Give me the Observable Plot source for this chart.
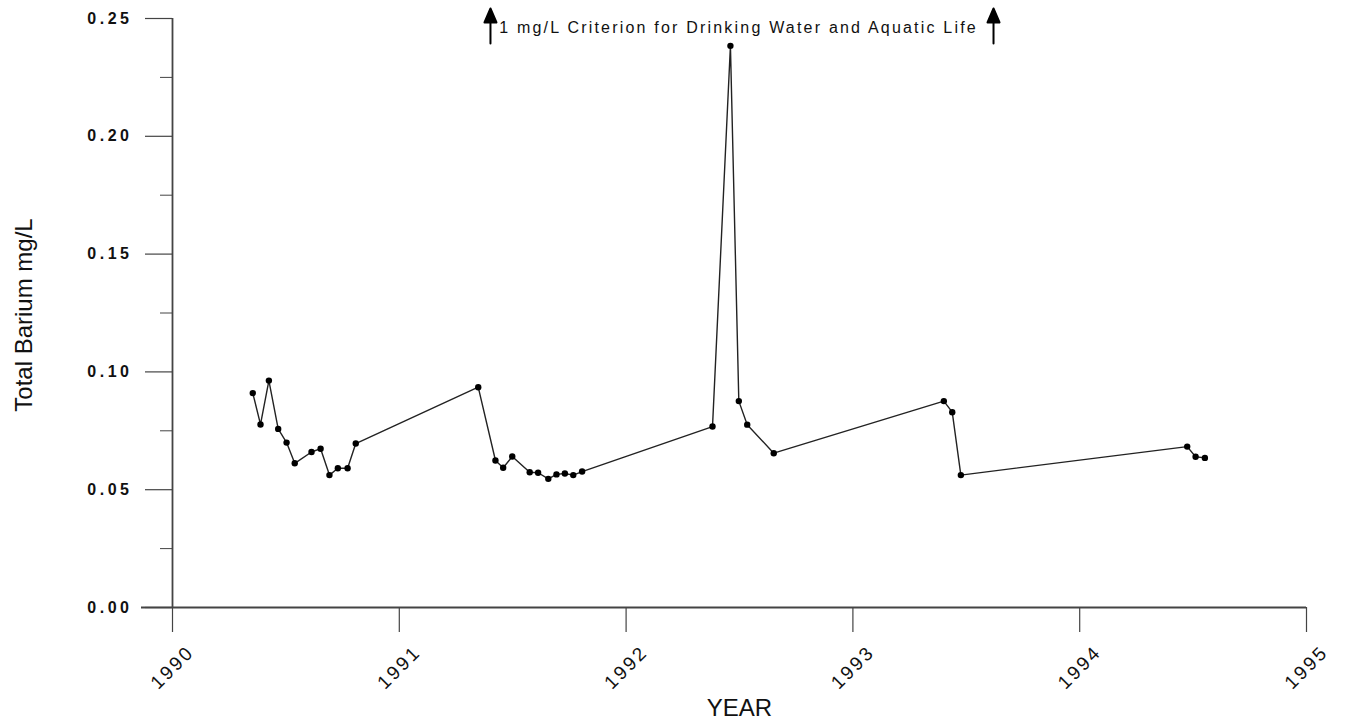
<!DOCTYPE html>
<html>
<head>
<meta charset="utf-8">
<script src="https://cdn.jsdelivr.net/npm/d3@7"></script>
<script src="https://cdn.jsdelivr.net/npm/@observablehq/plot@0.6"></script>
<style>
  html, body { margin: 0; padding: 0; background: #fff; overflow: hidden; }
  #chart svg { display: block; }
  g[aria-label="y-axis tick label"] text { letter-spacing: 3.5px; }
  g[aria-label="x-axis tick label"] text { letter-spacing: 2.5px; }
  g[aria-description="criterion"] text { letter-spacing: 2.2px; }
</style>
</head>
<body>
<div id="chart"></div>
<script>
// Total barium samples, decimal year of sampling and concentration (mg/L)
const sampleYear = [
  1990.354, 1990.388, 1990.425, 1990.466, 1990.503, 1990.539, 1990.613, 1990.653,
  1990.692, 1990.729, 1990.772, 1990.808,
  1991.348, 1991.424, 1991.458, 1991.498, 1991.575, 1991.612, 1991.657, 1991.693,
  1991.730, 1991.767, 1991.806,
  1992.381, 1992.460, 1992.497, 1992.534, 1992.651,
  1993.401, 1993.438, 1993.476,
  1994.474, 1994.511, 1994.552
];
const bariumMgL = [
  0.0910, 0.0777, 0.0963, 0.0758, 0.0700, 0.0612, 0.0660, 0.0674,
  0.0562, 0.0591, 0.0591, 0.0696,
  0.0935, 0.0624, 0.0593, 0.0641, 0.0574, 0.0572, 0.0546, 0.0565,
  0.0569, 0.0562, 0.0577,
  0.0768, 0.2384, 0.0876, 0.0776, 0.0655,
  0.0876, 0.0829, 0.0562,
  0.0683, 0.0640, 0.0635
];

// Axis ticks
const yearTicks = [1990, 1991, 1992, 1993, 1994, 1995];
const bariumTicks = [0, 0.05, 0.10, 0.15, 0.20, 0.25];
const bariumMinorTicks = [0.025, 0.075, 0.125, 0.175, 0.225];

// Off-scale criterion note (the 1 mg/L limit lies far above the plotted range)
const criterionText = "1 mg/L Criterion for Drinking Water and Aquatic Life";
const criterionArrowYears = [1991.402, 1993.620];

const samples = sampleYear.map((year, i) => ({year, barium: bariumMgL[i]}));

// Filled upward arrow: a shaft topped by a narrow triangular head
const upArrow = {
  draw(context, l) {
    const headH = 14, headW = 12;
    context.moveTo(0, 0);
    context.lineTo(0, -l + headH);
    context.moveTo(-headW / 2, -l + headH);
    context.lineTo(0, -l);
    context.lineTo(headW / 2, -l + headH);
    context.closePath();
  }
};

const font = "'Liberation Sans', Arial, Helvetica, sans-serif";

const chart = Plot.plot({
  width: 1351,
  height: 725,
  marginLeft: 172,
  marginRight: 45,
  marginTop: 18,
  marginBottom: 118,
  style: {background: "#fff", color: "#111", fontFamily: font, overflow: "visible"},
  x: {domain: [1990, 1995], axis: null},
  y: {domain: [0, 0.25], axis: null},
  marks: [
    // minor and major ticks on the concentration axis
    Plot.axisY(bariumMinorTicks, {
      anchor: "left", tickSize: 12, tickFormat: () => "", label: null,
      stroke: "#444", strokeWidth: 1
    }),
    Plot.axisY({
      ticks: bariumTicks, anchor: "left", tickSize: 27, tickPadding: 13,
      tickFormat: d3.format(".2f"), fontSize: 16, fontWeight: "bold",
      stroke: "#444", strokeWidth: 1.2, fill: "#111", label: null
    }),
    // year axis
    Plot.axisX({
      ticks: yearTicks, anchor: "bottom", tickSize: 25, tickPadding: 35,
      tickRotate: -45, textAnchor: "middle", lineAnchor: "middle",
      tickFormat: d => String(d), fontSize: 19, stroke: "#444", strokeWidth: 1.2,
      fill: "#111", label: null
    }),
    // axis lines
    Plot.ruleX([1990], {stroke: "#444", strokeWidth: 1.8}),
    Plot.ruleY([0], {stroke: "#444", strokeWidth: 1.8, insetLeft: -31}),
    // axis titles
    Plot.text(["Total Barium mg/L"], {
      frameAnchor: "left", dx: -148, dy: 2, rotate: -90,
      textAnchor: "middle", lineAnchor: "middle", fontSize: 24, fill: "#111"
    }),
    Plot.text(["YEAR"], {
      frameAnchor: "bottom", dy: 101, textAnchor: "middle", lineAnchor: "middle",
      fontSize: 24, fill: "#111"
    }),
    // criterion note with arrows pointing up, off the scale
    Plot.text([criterionText], {
      x: 1992.496, y: 0.2462, textAnchor: "middle", lineAnchor: "middle",
      fontSize: 16, fill: "#111", ariaDescription: "criterion"
    }),
    Plot.vector(criterionArrowYears, {
      x: d => d, y: 0.2394, length: 35, anchor: "start", rotate: 0,
      shape: upArrow, stroke: "#000", fill: "#000", strokeWidth: 2
    }),
    // the series
    Plot.line(samples, {x: "year", y: "barium", stroke: "#222", strokeWidth: 1.4}),
    Plot.dot(samples, {x: "year", y: "barium", r: 3.2, fill: "#000", stroke: "none"})
  ]
});

document.getElementById("chart").appendChild(chart);
</script>
</body>
</html>
